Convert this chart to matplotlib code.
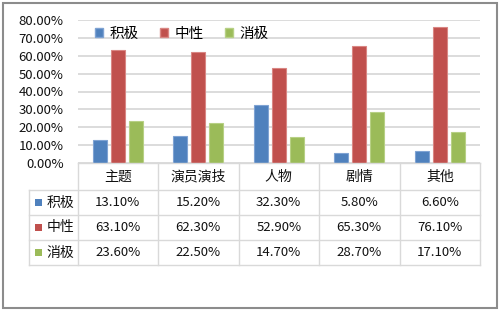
import numpy as np
import matplotlib.pyplot as plt
from matplotlib.patches import Rectangle, Patch
from matplotlib.ticker import FuncFormatter

plt.rcParams['font.family'] = ['Noto Sans CJK SC', 'DejaVu Sans']

categories = ["主题", "演员演技", "人物", "剧情", "其他"]
series_names = ["积极", "中性", "消极"]
positive = [13.1, 15.2, 32.3, 5.8, 6.6]
neutral = [63.1, 62.3, 52.9, 65.3, 76.1]
negative = [23.6, 22.5, 14.7, 28.7, 17.1]
colors = ["#4F81BD", "#C0504D", "#9BBB59"]
edges = ["#7FA3D3", "#D98683", "#B7D085"]

W, H = 500, 312
fig = plt.figure(figsize=(5, 3.12), dpi=100)

# outer frame
fig.patches.append(Rectangle((3 / W, 4 / H), 494 / W, 305 / H, transform=fig.transFigure,
                             fill=False, edgecolor="#8C8C8C", linewidth=1.5))

ax = fig.add_axes([77.5 / W, (H - 163) / H, 402.5 / W, 143 / H])
x = np.arange(len(categories))
bw = 0.174
step = 0.224
data = [positive, neutral, negative]
for i, vals in enumerate(data):
    ax.bar(x + (i - 1) * step, np.array(vals) / 100, bw, color=colors[i],
           edgecolor=edges[i], linewidth=0.8, zorder=3)

ax.set_xlim(-0.5, 4.5)
ax.set_ylim(0, 0.8)
ax.set_yticks(np.arange(0, 0.81, 0.1))
ax.yaxis.set_major_formatter(FuncFormatter(lambda v, p: f"{v * 100:.2f}%"))
ax.tick_params(axis='y', length=0, labelsize=9.5, pad=10, labelcolor="#111111")
ax.set_xticks([])
ax.grid(axis='y', color="#D9D9D9", linewidth=1.3, zorder=0)
for s in ax.spines.values():
    s.set_visible(False)

handles = [Patch(facecolor=colors[i], edgecolor=edges[i], label=series_names[i]) for i in range(3)]
ax.legend(handles=handles, loc='center left', bbox_to_anchor=(0.03, 0.905), ncol=3,
          frameon=False, fontsize=10.5, handlelength=0.55, handleheight=0.65,
          handletextpad=0.4, columnspacing=1.5, borderaxespad=0)

# data table below the plot
left_px = 29
tab = fig.add_axes([left_px / W, (H - 265) / H, (480 - left_px) / W, 102 / H])
x0 = -0.5 - (77.5 - left_px) / 80.5
tab.set_xlim(x0, 4.5)
row_edges = [0, 27, 52, 77, 102]
tab.set_ylim(102, 0)
tab.axis('off')
grid_c = "#D9D9D9"
for b in np.arange(-0.5, 4.6, 1.0):
    tab.plot([b, b], [0, 102], color=grid_c, linewidth=1.0, clip_on=False)
tab.plot([x0, x0], [27, 102], color=grid_c, linewidth=1.0, clip_on=False)
tab.plot([-0.5, 4.5], [0, 0], color=grid_c, linewidth=1.0, clip_on=False)
for r in row_edges[1:]:
    tab.plot([x0, 4.5], [r, r], color=grid_c, linewidth=1.0, clip_on=False)

for j, c in enumerate(categories):
    tab.text(j, 13.5, c, ha='center', va='center', fontsize=10, color="#111111")
for i, vals in enumerate(data):
    yc = (row_edges[i + 1] + row_edges[i + 2]) / 2
    tab.add_patch(Rectangle((x0 + 0.08, yc - 3.3), 0.085, 6.6, facecolor=colors[i],
                            edgecolor='none'))
    tab.text(x0 + 0.22, yc, series_names[i], ha='left', va='center', fontsize=10,
             color="#111111")
    for j, v in enumerate(vals):
        tab.text(j, yc, f"{v:.2f}%", ha='center', va='center', fontsize=9.5,
                 color="#111111")

fig.savefig("out.png", dpi=100)
